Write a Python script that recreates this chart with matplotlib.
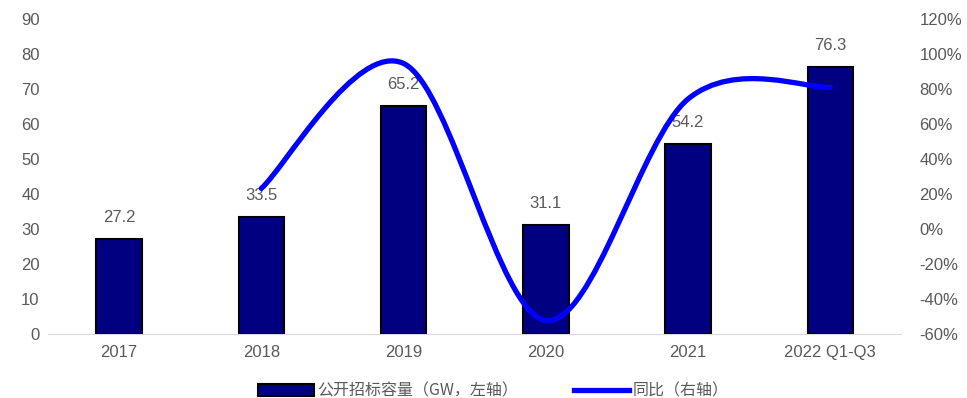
import numpy as np
import matplotlib.pyplot as plt
from matplotlib.path import Path
from matplotlib.patches import PathPatch, Patch
from matplotlib.lines import Line2D

plt.rcParams['font.family'] = ['Liberation Sans', 'Noto Sans CJK SC', 'DejaVu Sans']

years = ['2017', '2018', '2019', '2020', '2021', '2022 Q1-Q3']
capacity = [27.2, 33.5, 65.2, 31.1, 54.2, 76.3]
# yoy in %, first year has no value
yoy_years = [1, 2, 3, 4, 5]
yoy = [23.2, 94.6, -52.3, 74.3, 81.0]

grey = '#595959'

fig = plt.figure(figsize=(9.67, 3.98), dpi=100)
ax = fig.add_axes([0.0496, 0.1608, 0.8826, 0.7915])
x = np.arange(len(years))
bars = ax.bar(x, capacity, width=0.32, color='#000080', edgecolor='black', linewidth=1.5, zorder=2)
for xi, v in zip(x, capacity):
    ax.annotate(f'{v}', (xi, v), xytext=(0, 10), textcoords='offset points',
                ha='center', va='bottom', fontsize=12, color=grey)

ax.set_xlim(-0.5, len(years) - 0.5)
ax.set_ylim(0, 90)
ax.set_yticks(range(0, 91, 10))
ax.set_xticks(x)
ax.set_xticklabels(years)
for s in ['top', 'right', 'left']:
    ax.spines[s].set_visible(False)
ax.spines['bottom'].set_color('#d9d9d9')
ax.tick_params(axis='both', length=0, labelsize=12, labelcolor=grey)
ax.tick_params(axis='y', pad=6)
ax.tick_params(axis='x', pad=8)

ax2 = ax.twinx()
ax2.set_ylim(-60, 120)
ax2.set_yticks(range(-60, 121, 20))
ax2.set_yticklabels([f'{t}%' for t in range(-60, 121, 20)])
for s in ax2.spines.values():
    s.set_visible(False)
ax2.tick_params(axis='y', length=0, labelsize=12, labelcolor=grey, pad=13)

# smoothed line through the yoy points (cubic bezier segments)
pts = np.column_stack([yoy_years, yoy]).astype(float)
n = len(pts)
verts = [pts[0]]
codes = [Path.MOVETO]
for i in range(n - 1):
    p0 = pts[i - 1] if i > 0 else pts[i]
    p1, p2 = pts[i], pts[i + 1]
    p3 = pts[i + 2] if i + 2 < n else pts[i + 1]
    c1 = p1 + (p2 - p0) / 6
    c2 = p2 - (p3 - p1) / 6
    verts += [c1, c2, p2]
    codes += [Path.CURVE4] * 3
ax2.add_patch(PathPatch(Path(verts, codes), fill=False, edgecolor='#0000ff',
                        linewidth=3.8, capstyle='round', zorder=3))

handles = [Patch(facecolor='#000080', edgecolor='black', linewidth=1.5),
           Line2D([], [], color='#0000ff', linewidth=3.8)]
fig.legend(handles, ['公开招标容量（GW，左轴）', '同比（右轴）'], loc='lower center',
           bbox_to_anchor=(0.51, -0.04), ncol=2, frameon=False,
           handlelength=3.5, handletextpad=0.2, columnspacing=3.5,
           prop={'family': ['Noto Sans CJK SC', 'DejaVu Sans'], 'size': 11.5})
for t in fig.legends[0].get_texts():
    t.set_color(grey)

fig.savefig('out.png', dpi=100)
